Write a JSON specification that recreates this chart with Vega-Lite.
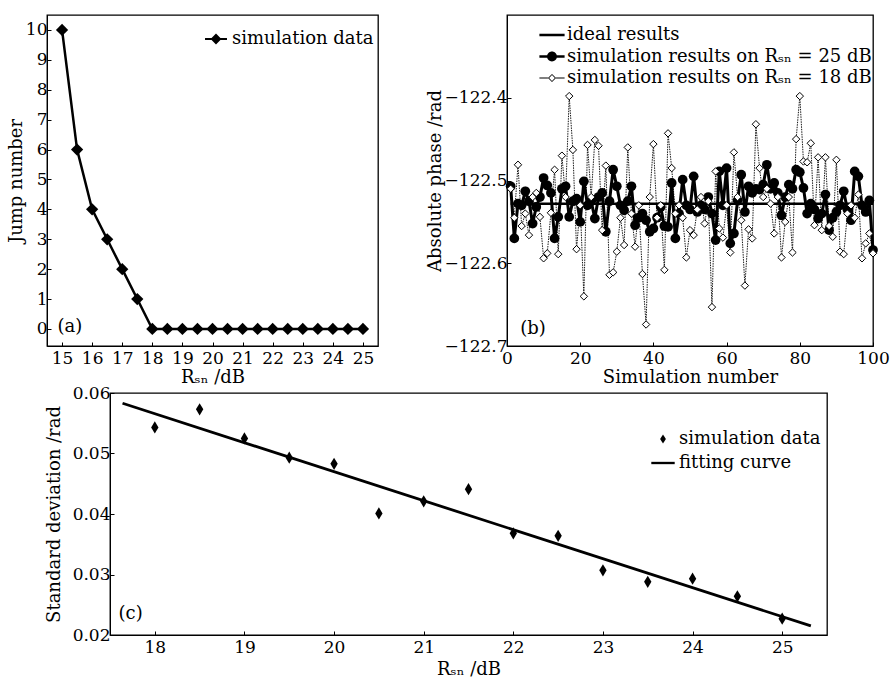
{
  "$schema": "https://vega.github.io/schema/vega-lite/v6.json",
  "padding": {"left": 6, "top": 14, "right": 0, "bottom": 2},
  "background": "white",
  "config": {
    "font": "DejaVu Serif",
    "view": {"stroke": "black", "strokeWidth": 1.3},
    "axis": {"grid": false, "labelFontSize": 17, "titleFontSize": 18, "titleFontWeight": "normal", "labelColor": "black", "titleColor": "black", "domainColor": "black", "tickColor": "black", "tickSize": -4, "labelPadding": 8, "labelFlush": false, "labelOverlap": false, "labelFont": "DejaVu Serif", "titleFont": "DejaVu Serif"},
    "legend": {"labelFontSize": 18, "labelColor": "black", "labelFont": "DejaVu Serif", "labelLimit": 500, "symbolStrokeWidth": 0, "symbolOpacity": 1, "symbolFillColor": "black", "title": null},
    "text": {"font": "DejaVu Serif", "fontSize": 18, "color": "black"}
  },
  "datasets": {
    "a": [
      {"snr": 15, "jump": 10, "series": "simulation data"},
      {"snr": 15.5, "jump": 6, "series": "simulation data"},
      {"snr": 16, "jump": 4, "series": "simulation data"},
      {"snr": 16.5, "jump": 3, "series": "simulation data"},
      {"snr": 17, "jump": 2, "series": "simulation data"},
      {"snr": 17.5, "jump": 1, "series": "simulation data"},
      {"snr": 18, "jump": 0, "series": "simulation data"},
      {"snr": 18.5, "jump": 0, "series": "simulation data"},
      {"snr": 19, "jump": 0, "series": "simulation data"},
      {"snr": 19.5, "jump": 0, "series": "simulation data"},
      {"snr": 20, "jump": 0, "series": "simulation data"},
      {"snr": 20.5, "jump": 0, "series": "simulation data"},
      {"snr": 21, "jump": 0, "series": "simulation data"},
      {"snr": 21.5, "jump": 0, "series": "simulation data"},
      {"snr": 22, "jump": 0, "series": "simulation data"},
      {"snr": 22.5, "jump": 0, "series": "simulation data"},
      {"snr": 23, "jump": 0, "series": "simulation data"},
      {"snr": 23.5, "jump": 0, "series": "simulation data"},
      {"snr": 24, "jump": 0, "series": "simulation data"},
      {"snr": 24.5, "jump": 0, "series": "simulation data"},
      {"snr": 25, "jump": 0, "series": "simulation data"}
    ],
    "b": [
      {"n": 1, "r25": -122.507, "r18": -122.510},
      {"n": 2, "r25": -122.570, "r18": -122.545},
      {"n": 3, "r25": -122.528, "r18": -122.481},
      {"n": 4, "r25": -122.530, "r18": -122.555},
      {"n": 5, "r25": -122.513, "r18": -122.540},
      {"n": 6, "r25": -122.525, "r18": -122.566},
      {"n": 7, "r25": -122.552, "r18": -122.520},
      {"n": 8, "r25": -122.532, "r18": -122.515},
      {"n": 9, "r25": -122.520, "r18": -122.544},
      {"n": 10, "r25": -122.497, "r18": -122.594},
      {"n": 11, "r25": -122.506, "r18": -122.588},
      {"n": 12, "r25": -122.515, "r18": -122.539},
      {"n": 13, "r25": -122.570, "r18": -122.487},
      {"n": 14, "r25": -122.544, "r18": -122.589},
      {"n": 15, "r25": -122.510, "r18": -122.470},
      {"n": 16, "r25": -122.507, "r18": -122.520},
      {"n": 17, "r25": -122.544, "r18": -122.398},
      {"n": 18, "r25": -122.525, "r18": -122.463},
      {"n": 19, "r25": -122.522, "r18": -122.583},
      {"n": 20, "r25": -122.550, "r18": -122.530},
      {"n": 21, "r25": -122.501, "r18": -122.640},
      {"n": 22, "r25": -122.530, "r18": -122.457},
      {"n": 23, "r25": -122.525, "r18": -122.520},
      {"n": 24, "r25": -122.546, "r18": -122.451},
      {"n": 25, "r25": -122.520, "r18": -122.458},
      {"n": 26, "r25": -122.515, "r18": -122.560},
      {"n": 27, "r25": -122.562, "r18": -122.482},
      {"n": 28, "r25": -122.525, "r18": -122.614},
      {"n": 29, "r25": -122.487, "r18": -122.611},
      {"n": 30, "r25": -122.507, "r18": -122.586},
      {"n": 31, "r25": -122.530, "r18": -122.545},
      {"n": 32, "r25": -122.536, "r18": -122.578},
      {"n": 33, "r25": -122.525, "r18": -122.460},
      {"n": 34, "r25": -122.507, "r18": -122.540},
      {"n": 35, "r25": -122.554, "r18": -122.580},
      {"n": 36, "r25": -122.545, "r18": -122.530},
      {"n": 37, "r25": -122.540, "r18": -122.613},
      {"n": 38, "r25": -122.548, "r18": -122.674},
      {"n": 39, "r25": -122.562, "r18": -122.520},
      {"n": 40, "r25": -122.558, "r18": -122.456},
      {"n": 41, "r25": -122.545, "r18": -122.545},
      {"n": 42, "r25": -122.532, "r18": -122.530},
      {"n": 43, "r25": -122.555, "r18": -122.608},
      {"n": 44, "r25": -122.556, "r18": -122.443},
      {"n": 45, "r25": -122.503, "r18": -122.485},
      {"n": 46, "r25": -122.570, "r18": -122.540},
      {"n": 47, "r25": -122.540, "r18": -122.530},
      {"n": 48, "r25": -122.499, "r18": -122.545},
      {"n": 49, "r25": -122.530, "r18": -122.593},
      {"n": 50, "r25": -122.535, "r18": -122.560},
      {"n": 51, "r25": -122.495, "r18": -122.566},
      {"n": 52, "r25": -122.538, "r18": -122.535},
      {"n": 53, "r25": -122.530, "r18": -122.520},
      {"n": 54, "r25": -122.535, "r18": -122.552},
      {"n": 55, "r25": -122.520, "r18": -122.525},
      {"n": 56, "r25": -122.540, "r18": -122.653},
      {"n": 57, "r25": -122.572, "r18": -122.489},
      {"n": 58, "r25": -122.489, "r18": -122.558},
      {"n": 59, "r25": -122.530, "r18": -122.569},
      {"n": 60, "r25": -122.485, "r18": -122.530},
      {"n": 61, "r25": -122.576, "r18": -122.587},
      {"n": 62, "r25": -122.564, "r18": -122.466},
      {"n": 63, "r25": -122.524, "r18": -122.520},
      {"n": 64, "r25": -122.493, "r18": -122.548},
      {"n": 65, "r25": -122.538, "r18": -122.627},
      {"n": 66, "r25": -122.507, "r18": -122.559},
      {"n": 67, "r25": -122.515, "r18": -122.570},
      {"n": 68, "r25": -122.510, "r18": -122.432},
      {"n": 69, "r25": -122.511, "r18": -122.485},
      {"n": 70, "r25": -122.505, "r18": -122.520},
      {"n": 71, "r25": -122.481, "r18": -122.510},
      {"n": 72, "r25": -122.510, "r18": -122.528},
      {"n": 73, "r25": -122.503, "r18": -122.564},
      {"n": 74, "r25": -122.515, "r18": -122.520},
      {"n": 75, "r25": -122.542, "r18": -122.593},
      {"n": 76, "r25": -122.520, "r18": -122.550},
      {"n": 77, "r25": -122.505, "r18": -122.520},
      {"n": 78, "r25": -122.510, "r18": -122.587},
      {"n": 79, "r25": -122.487, "r18": -122.450},
      {"n": 80, "r25": -122.490, "r18": -122.398},
      {"n": 81, "r25": -122.509, "r18": -122.477},
      {"n": 82, "r25": -122.540, "r18": -122.478},
      {"n": 83, "r25": -122.528, "r18": -122.455},
      {"n": 84, "r25": -122.535, "r18": -122.554},
      {"n": 85, "r25": -122.546, "r18": -122.472},
      {"n": 86, "r25": -122.540, "r18": -122.560},
      {"n": 87, "r25": -122.517, "r18": -122.472},
      {"n": 88, "r25": -122.560, "r18": -122.555},
      {"n": 89, "r25": -122.545, "r18": -122.568},
      {"n": 90, "r25": -122.538, "r18": -122.475},
      {"n": 91, "r25": -122.530, "r18": -122.586},
      {"n": 92, "r25": -122.513, "r18": -122.589},
      {"n": 93, "r25": -122.535, "r18": -122.540},
      {"n": 94, "r25": -122.548, "r18": -122.530},
      {"n": 95, "r25": -122.489, "r18": -122.545},
      {"n": 96, "r25": -122.495, "r18": -122.517},
      {"n": 97, "r25": -122.530, "r18": -122.594},
      {"n": 98, "r25": -122.538, "r18": -122.576},
      {"n": 99, "r25": -122.524, "r18": -122.564},
      {"n": 100, "r25": -122.584, "r18": -122.588}
    ],
    "ideal": [
      {"n": 1, "ideal": -122.528, "series": "ideal results"},
      {"n": 100, "ideal": -122.528, "series": "ideal results"}
    ],
    "c": [
      {"snr": 18, "sd": 0.0543, "series": "simulation data"},
      {"snr": 18.5, "sd": 0.0573, "series": "simulation data"},
      {"snr": 19, "sd": 0.0525, "series": "simulation data"},
      {"snr": 19.5, "sd": 0.0493, "series": "simulation data"},
      {"snr": 20, "sd": 0.0483, "series": "simulation data"},
      {"snr": 20.5, "sd": 0.0401, "series": "simulation data"},
      {"snr": 21, "sd": 0.0421, "series": "simulation data"},
      {"snr": 21.5, "sd": 0.0441, "series": "simulation data"},
      {"snr": 22, "sd": 0.0368, "series": "simulation data"},
      {"snr": 22.5, "sd": 0.0364, "series": "simulation data"},
      {"snr": 23, "sd": 0.0307, "series": "simulation data"},
      {"snr": 23.5, "sd": 0.0288, "series": "simulation data"},
      {"snr": 24, "sd": 0.0293, "series": "simulation data"},
      {"snr": 24.5, "sd": 0.0264, "series": "simulation data"},
      {"snr": 25, "sd": 0.0227, "series": "simulation data"}
    ],
    "fit": [
      {"snr": 17.64, "fit": 0.0583},
      {"snr": 25.32, "fit": 0.0215}
    ]
  },
  "spacing": -4,
  "resolve": {"scale": {"shape": "independent"}, "legend": {"shape": "independent"}},
  "vconcat": [
    {
      "spacing": 46,
      "resolve": {"scale": {"shape": "independent"}, "legend": {"shape": "independent"}},
      "hconcat": [
        {
          "width": 331,
          "height": 331,
          "data": {"name": "a"},
          "encoding": {
            "x": {"field": "snr", "type": "quantitative", "scale": {"domain": [14.5, 25.5], "nice": false, "zero": false}, "axis": {"values": [15, 16, 17, 18, 19, 20, 21, 22, 23, 24, 25], "title": "Rₛₙ /dB", "titlePadding": 2}},
            "y": {"field": "jump", "type": "quantitative", "scale": {"domain": [-0.57, 10.5], "nice": false, "zero": false}, "axis": {"values": [0, 1, 2, 3, 4, 5, 6, 7, 8, 9, 10], "title": "Jump number", "labelPadding": 4, "titlePadding": 0}}
          },
          "layer": [
            {"mark": {"type": "line", "color": "black", "strokeWidth": 2.5}},
            {"mark": {"type": "point", "shape": "diamond", "filled": true, "color": "black", "size": 150, "opacity": 1}},
            {
              "mark": {"type": "point", "filled": true, "color": "black", "opacity": 0},
              "encoding": {
                "shape": {"field": "series", "type": "nominal", "scale": {"domain": ["simulation data"], "range": ["M-1.22,-0.11H1.22V0.11H-1.22Z M0,-0.6L0.6,0L0,0.6L-0.6,0Z"]},
                  "legend": {"orient": "none", "legendX": 160, "legendY": 15, "symbolSize": 324, "labelOffset": 7, "title": null}}
              }
            },
            {"transform": [{"filter": "datum.snr == 25"}], "mark": {"type": "text", "fontSize": 18, "color": "black"}, "encoding": {"x": {"datum": 15.26}, "y": {"datum": 0.05}, "text": {"value": "(a)"}}}
          ]
        },
        {
          "width": 366,
          "height": 331,
          "encoding": {
            "x": {"field": "n", "type": "quantitative", "scale": {"domain": [0, 100], "nice": false, "zero": false}, "axis": {"values": [0, 20, 40, 60, 80, 100], "title": "Simulation number", "titlePadding": 2}},
            "y": {"type": "quantitative", "scale": {"domain": [-122.7, -122.3], "nice": false, "zero": false}, "axis": {"values": [-122.7, -122.6, -122.5, -122.4], "format": ".1f", "title": "Absolute phase /rad", "labelPadding": 4, "titlePadding": 0}}
          },
          "layer": [
            {"data": {"name": "b"}, "mark": {"type": "line", "color": "black", "strokeWidth": 3}, "encoding": {"y": {"field": "r25", "type": "quantitative"}}},
            {"data": {"name": "b"}, "mark": {"type": "point", "shape": "circle", "filled": true, "color": "black", "size": 95, "opacity": 1}, "encoding": {"y": {"field": "r25", "type": "quantitative"}}},
            {"data": {"name": "ideal"}, "mark": {"type": "line", "color": "black", "strokeWidth": 2.5}, "encoding": {"y": {"field": "ideal", "type": "quantitative"}}},
            {"data": {"name": "b"}, "mark": {"type": "line", "color": "black", "strokeWidth": 0.9, "strokeDash": [1.5, 1]}, "encoding": {"y": {"field": "r18", "type": "quantitative"}}},
            {"data": {"name": "b"}, "mark": {"type": "point", "shape": "diamond", "filled": false, "fill": "white", "fillOpacity": 1, "stroke": "black", "strokeWidth": 1, "size": 55, "opacity": 1}, "encoding": {"y": {"field": "r18", "type": "quantitative"}}},
            {
              "data": {"name": "ideal"},
              "mark": {"type": "point", "filled": true, "color": "black", "opacity": 0},
              "encoding": {
                "y": {"field": "ideal", "type": "quantitative"},
                "shape": {"field": "series", "type": "nominal",
                  "scale": {"domain": ["ideal results", "simulation results on Rₛₙ = 25 dB", "simulation results on Rₛₙ = 18 dB"],
                    "range": ["M-1.4,-0.14H1.4V0.14H-1.4Z", "M-1.4,-0.14H1.4V0.14H-1.4Z M-0.55,0A0.55,0.55 0 1,1 0.55,0A0.55,0.55 0 1,1 -0.55,0Z", "M-1.4,-0.06H-0.45V0.06H-1.4Z M0.45,-0.06H1.4V0.06H0.45Z M0,-0.45L0.45,0L0,0.45L-0.45,0Z M0,-0.32L-0.32,0L0,0.32L0.32,0Z"]},
                  "legend": {"orient": "none", "legendX": 36, "legendY": 11, "symbolSize": 324, "labelOffset": 6, "rowPadding": 3.5, "title": null}}
              }
            },
            {"data": {"name": "ideal"}, "transform": [{"filter": "datum.n == 1"}], "mark": {"type": "text", "fontSize": 18, "color": "black"}, "encoding": {"x": {"datum": 7.1}, "y": {"datum": -122.68}, "text": {"value": "(b)"}}}
          ]
        }
      ]
    },
    {
      "spacing": -4,
      "resolve": {"scale": {"shape": "independent"}, "legend": {"shape": "independent"}},
      "hconcat": [
        {
          "width": 1,
          "height": 10,
          "view": {"stroke": null},
          "data": {"name": "fit"},
          "mark": {"type": "text", "opacity": 0},
          "encoding": {"text": {"value": ""}}
        },
        {
          "width": 717,
          "height": 242,
          "encoding": {
            "x": {"field": "snr", "type": "quantitative", "scale": {"domain": [17.5, 25.5], "nice": false, "zero": false}, "axis": {"values": [18, 19, 20, 21, 22, 23, 24, 25], "title": "Rₛₙ /dB", "titlePadding": 5}},
            "y": {"type": "quantitative", "scale": {"domain": [0.02, 0.06], "nice": false, "zero": false}, "axis": {"values": [0.02, 0.03, 0.04, 0.05, 0.06], "format": ".2f", "title": "Standard deviation /rad", "labelPadding": 4, "titlePadding": 9}}
          },
          "layer": [
            {"data": {"name": "fit"}, "mark": {"type": "line", "color": "black", "strokeWidth": 2.8}, "encoding": {"y": {"field": "fit", "type": "quantitative"}}},
            {"data": {"name": "c"}, "mark": {"type": "point", "shape": "M0,-1L0.6,0L0,1L-0.6,0Z", "filled": true, "color": "black", "size": 150, "opacity": 1}, "encoding": {"y": {"field": "sd", "type": "quantitative"}}},
            {
              "data": {"name": "c"},
              "mark": {"type": "point", "filled": true, "color": "black", "opacity": 0},
              "encoding": {
                "y": {"field": "sd", "type": "quantitative"},
                "shape": {"field": "series", "type": "nominal",
                  "scale": {"domain": ["simulation data", "fitting curve"], "range": ["M0,-0.5L0.32,0L0,0.5L-0.32,0Z", "M-1.3,-0.13H1.3V0.13H-1.3Z"]},
                  "legend": {"orient": "none", "legendX": 544, "legendY": 37, "symbolSize": 324, "labelOffset": 7, "rowPadding": 6, "title": null}}
              }
            },
            {"data": {"name": "fit"}, "transform": [{"filter": "datum.fit > 0.05"}], "mark": {"type": "text", "fontSize": 18, "color": "black"}, "encoding": {"x": {"datum": 17.73}, "y": {"datum": 0.0235}, "text": {"value": "(c)"}}}
          ]
        }
      ]
    }
  ]
}
